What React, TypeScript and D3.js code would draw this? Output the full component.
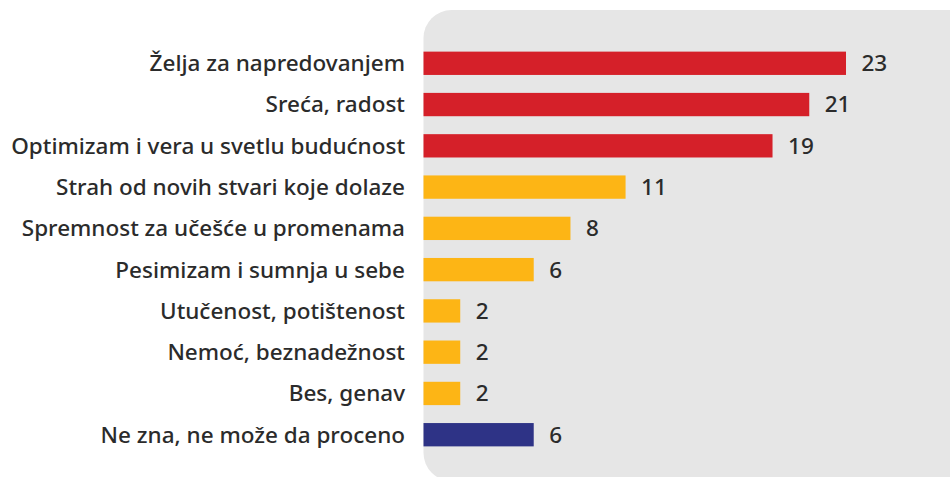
import React from "react";
import * as d3 from "d3";

const categories = [
  "Želja za napredovanjem",
  "Sreća, radost",
  "Optimizam i vera u svetlu budućnost",
  "Strah od novih stvari koje dolaze",
  "Spremnost za učešće u promenama",
  "Pesimizam i sumnja u sebe",
  "Utučenost, potištenost",
  "Nemoć, beznadežnost",
  "Bes, genav",
  "Ne zna, ne može da proceno",
];
const values = [23, 21, 19, 11, 8, 6, 2, 2, 2, 6];
const groups = ["pos", "pos", "pos", "neg", "neg", "neg", "neg", "neg", "neg", "dk"];
const groupColors: Record<string, string> = { pos: "#D52029", neg: "#FDB515", dk: "#2E3386" };

const W = 950;
const H = 477;
const FONT = "'Noto Sans', sans-serif";

export default function App() {
  const x0 = 423.5;
  const x = d3.scaleLinear().domain([0, 23]).range([x0, 846]);
  const y = d3
    .scaleBand<string>()
    .domain(categories)
    .range([42.65, 455.35])
    .paddingInner(0.435)
    .paddingOuter(0.2175);

  return (
    <svg
      width={W}
      height={H}
      style={{ position: "absolute", left: 0, top: 0, background: "#fff" }}
    >
      <rect x={x0} y={10} width={W - x0 + 30} height={471} rx={28} ry={28} fill="#E6E6E6" />
      {categories.map((c, i) => {
        const yc = (y(c) as number) + y.bandwidth() / 2;
        return (
          <g key={c}>
            <rect
              x={x(0)}
              y={y(c)}
              width={x(values[i]) - x(0)}
              height={y.bandwidth()}
              fill={groupColors[groups[i]]}
            />
            <text
              x={405}
              y={yc}
              dy="0.35em"
              textAnchor="end"
              fontFamily={FONT}
              fontSize={22.5}
              fontWeight={500}
              fill="#2B2B2B"
            >
              {c}
            </text>
            <text
              x={x(values[i]) + 15.5}
              y={yc}
              dy="0.35em"
              textAnchor="start"
              fontFamily={FONT}
              fontSize={22.5}
              fontWeight={500}
              fill="#2B2B2B"
            >
              {values[i]}
            </text>
          </g>
        );
      })}
    </svg>
  );
}
